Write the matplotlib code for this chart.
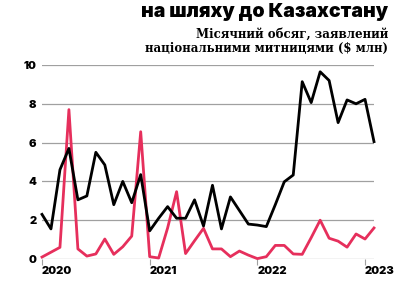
import matplotlib.pyplot as plt
import numpy as np

# monthly values, Jan 2020 .. Feb 2023
black_vals = [2.3, 1.55, 4.6, 5.7, 3.05, 3.25, 5.5, 4.85, 2.8, 4.0, 2.9, 4.35,
              1.45, 2.1, 2.7, 2.1, 2.1, 3.05, 1.7, 3.8, 1.55, 3.2, 2.5, 1.8,
              1.75, 1.67, 2.8, 3.98, 4.33, 9.14, 8.06, 9.65, 9.2, 7.03, 8.2, 8.0,
              8.23, 6.05]
pink_vals = [0.1, 0.35, 0.6, 7.7, 0.52, 0.15, 0.26, 1.03, 0.24, 0.63, 1.18, 6.56,
             0.12, 0.05, 1.6, 3.47, 0.28, 0.94, 1.58, 0.52, 0.52, 0.12, 0.41, 0.2,
             0.02, 0.12, 0.7, 0.7, 0.26, 0.24, 1.1, 2.0, 1.07, 0.92, 0.61, 1.29,
             1.03, 1.6]
year_labels = ['2020', '2021', '2022', '2023']
y_ticks = [0, 2, 4, 6, 8, 10]

title = 'на шляху до Казахстану'
subtitle = 'Місячний обсяг, заявлений\nнаціональними митницями ($ млн)'

months = np.arange(len(black_vals))
year_pos = [0, 12, 24, 36]

fig = plt.figure(figsize=(4.2, 2.88), dpi=100)
ax = fig.add_axes([42/420, 1-259/288, 332/420, 194/288])

ax.plot(months, pink_vals, color='#e62f5c', lw=2, clip_on=False, zorder=3)
ax.plot(months, black_vals, color='black', lw=2, clip_on=False, zorder=4)

ax.set_xlim(0, 37)
ax.set_ylim(0, 10)
for s in ax.spines.values():
    s.set_visible(False)

for v in y_ticks:
    ax.axhline(v, color='#a0a0a0', lw=0.9, zorder=1)

ax.set_yticks(y_ticks)
ax.set_yticklabels([str(v) for v in y_ticks], fontfamily='Inter',
                   fontweight='black', fontsize=8)
ax.tick_params(axis='y', length=0, pad=4)

ax.set_xticks(year_pos)
ax.set_xticklabels(year_labels, fontfamily='Inter', fontweight='black',
                   fontsize=8, ha='left')
ax.tick_params(axis='x', length=4, width=0.8, color='#a0a0a0', pad=1)

fig.text(388/420, 1-17/288, title, ha='right', va='baseline',
         fontfamily='Inter', fontweight='black', fontsize=14)
fig.text(388/420, 1-52/288, subtitle, ha='right', va='baseline',
         fontfamily='DejaVu Serif', fontweight='bold', fontsize=8.5,
         linespacing=1.1, multialignment='right')

plt.savefig('out.png', dpi=100)
